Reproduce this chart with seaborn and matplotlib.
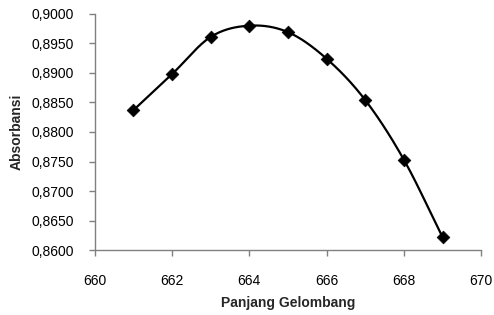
import numpy as np
import pandas as pd
import matplotlib
matplotlib.use("Agg")
import matplotlib.pyplot as plt
import seaborn as sns
from matplotlib.ticker import FuncFormatter, MultipleLocator

# wavelength (nm) and absorbance readings
panjang_gelombang = [661, 662, 663, 664, 665, 666, 667, 668, 669]
absorbansi = [0.8837, 0.8898, 0.8961, 0.8980, 0.8969, 0.8924, 0.8854, 0.8753, 0.8622]

df = pd.DataFrame({"x": panjang_gelombang, "y": absorbansi})

sns.set_style("white")
plt.rcParams["font.family"] = ["Liberation Sans", "DejaVu Sans"]

# smoothed line like a spreadsheet chart (Catmull-Rom through the points)
def smooth(xs, ys, n=30):
    xs = np.asarray(xs, float)
    ys = np.asarray(ys, float)
    px = np.concatenate([[2 * xs[0] - xs[1]], xs, [2 * xs[-1] - xs[-2]]])
    py = np.concatenate([[2 * ys[0] - ys[1]], ys, [2 * ys[-1] - ys[-2]]])
    out_x, out_y = [], []
    t = np.linspace(0, 1, n)
    for i in range(1, len(px) - 2):
        for p, out in ((px, out_x), (py, out_y)):
            p0, p1, p2, p3 = p[i - 1], p[i], p[i + 1], p[i + 2]
            c = 0.5 * ((2 * p1) + (-p0 + p2) * t
                       + (2 * p0 - 5 * p1 + 4 * p2 - p3) * t ** 2
                       + (-p0 + 3 * p1 - 3 * p2 + p3) * t ** 3)
            out.extend(c)
    return np.array(out_x), np.array(out_y)

fig = plt.figure(figsize=(4.94, 3.15), dpi=100)
ax = fig.add_axes([0.192, 0.206, 0.782, 0.75])

sx, sy = smooth(df["x"], df["y"])
ax.plot(sx, sy, color="black", lw=1.6, zorder=2)
sns.scatterplot(data=df, x="x", y="y", marker="D", s=42, color="black",
                edgecolor="black", linewidth=0.5, ax=ax, zorder=3)

ax.set_xlim(660, 670)
ax.set_ylim(0.86, 0.90)
ax.xaxis.set_major_locator(MultipleLocator(2))
ax.yaxis.set_major_locator(MultipleLocator(0.005))
ax.yaxis.set_major_formatter(FuncFormatter(lambda v, p: f"{v:.4f}".replace(".", ",")))

for s in ["top", "right"]:
    ax.spines[s].set_visible(False)
for s in ["left", "bottom"]:
    ax.spines[s].set_color("#808080")
    ax.spines[s].set_linewidth(1.0)

ax.tick_params(axis="both", direction="out", length=4, width=1.0, color="#808080",
               labelsize=10, labelcolor="black", bottom=True, left=True)
ax.tick_params(axis="y", pad=11)
ax.tick_params(axis="x", pad=13)

ax.set_xlabel("Panjang Gelombang", fontsize=10, fontweight="bold", labelpad=6)
ax.set_ylabel("Absorbansi", fontsize=10, fontweight="bold", labelpad=6)

fig.savefig("out.png", dpi=100)
